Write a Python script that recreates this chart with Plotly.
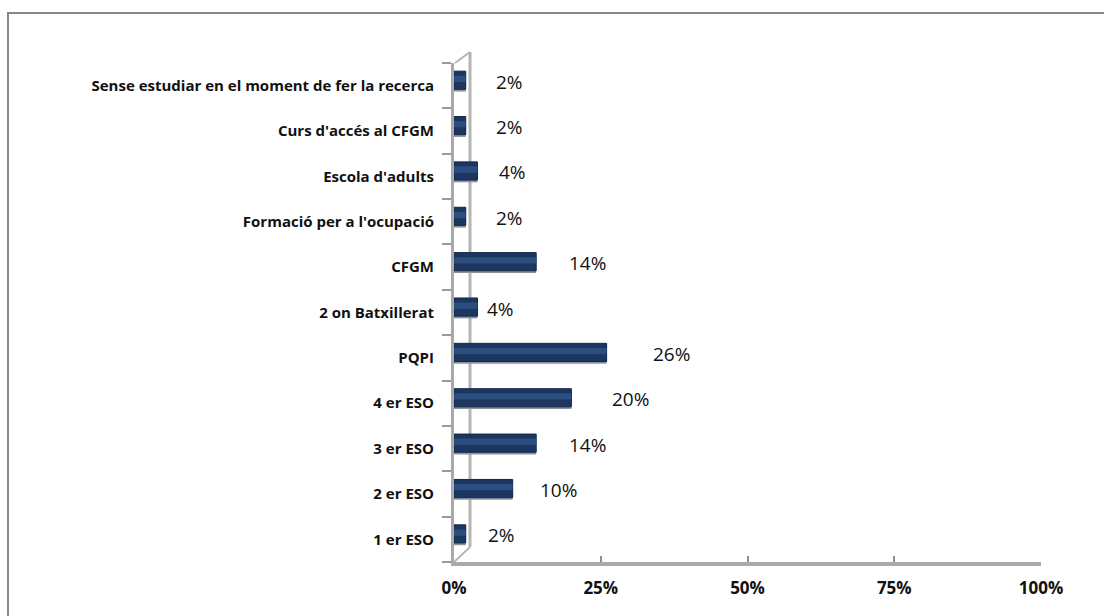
import plotly.graph_objects as go

# Categories listed bottom-to-top as they appear on the vertical axis
categories = [
    "1 er ESO",
    "2 er ESO",
    "3 er ESO",
    "4 er ESO",
    "PQPI",
    "2 on Batxillerat",
    "CFGM",
    "Formació per a l'ocupació",
    "Escola d'adults",
    "Curs d'accés al CFGM",
    "Sense estudiar en el moment de fer la recerca",
]
percentages = [2, 10, 14, 20, 26, 4, 14, 2, 4, 2, 2]
x_ticks = [0, 25, 50, 75, 100]
x_tick_labels = ["0%", "25%", "50%", "75%", "100%"]

# Horizontal pixel nudges for the value labels (styling only)
label_dx = [20, 25, 31, 39, 44, 8, 31, 28, 20, 28, 28]

W, H = 1104, 616
PLOT_L, PLOT_R = 454, 1041
PLOT_T, PLOT_B = 63, 562

GRAY = "#a9a9a9"
FONT = "Open Sans, Lato, sans-serif"
bar_w = 0.40
bar_off = -bar_w / 2 + 0.12

fig = go.Figure()

# soft shadow under each bar
fig.add_trace(go.Bar(
    y=categories, x=percentages, orientation="h",
    width=bar_w, offset=bar_off - 0.05,
    marker=dict(color="#8d939c", line=dict(width=0)),
    hoverinfo="skip", showlegend=False,
))
# main bar body
fig.add_trace(go.Bar(
    y=categories, x=percentages, orientation="h",
    width=bar_w, offset=bar_off,
    marker=dict(color="#1c365f", line=dict(color="#13284a", width=1)),
    showlegend=False,
))
# lighter band for the cylindrical sheen
fig.add_trace(go.Bar(
    y=categories, x=percentages, orientation="h",
    width=0.14, offset=bar_off + 0.16,
    marker=dict(color="#2b4d80", line=dict(width=0)),
    hoverinfo="skip", showlegend=False,
))

annotations = []
for cat, val, dx in zip(categories, percentages, label_dx):
    annotations.append(dict(
        x=val, y=cat, xref="x", yref="y",
        text=f"{val}%", showarrow=False,
        xanchor="left", yanchor="middle",
        xshift=dx, yshift=4,
        font=dict(family=FONT, size=19, color="#111111"),
    ))

plot_w = PLOT_R - PLOT_L
plot_h = PLOT_B - PLOT_T

shapes = [
    # outer chart frame (runs off the right and bottom edges)
    dict(type="rect", xref="paper", yref="paper",
         x0=(8 - PLOT_L) / plot_w, x1=(W + 20 - PLOT_L) / plot_w,
         y0=(PLOT_B - (H + 20)) / plot_h, y1=(PLOT_B - 13) / plot_h,
         line=dict(color="#878787", width=2), fillcolor="rgba(0,0,0,0)", layer="below"),
    # back wall edge of the 3D frame
    dict(type="line", xref="x", xsizemode="pixel", xanchor=0, x0=16, x1=16,
         yref="y domain", ysizemode="pixel", yanchor=0, y0=15, y1=plot_h + 11,
         line=dict(color="#b5b5b5", width=3), layer="below"),
    # floor corner diagonal
    dict(type="line", xref="x", xsizemode="pixel", xanchor=0, x0=0, x1=16,
         yref="y domain", ysizemode="pixel", yanchor=0, y0=0, y1=15,
         line=dict(color="#b5b5b5", width=2), layer="below"),
    # top corner diagonal
    dict(type="line", xref="x", xsizemode="pixel", xanchor=0, x0=1, x1=16,
         yref="y domain", ysizemode="pixel", yanchor=1, y0=0, y1=11,
         line=dict(color="#b5b5b5", width=2)),
]

fig.update_layout(
    width=W, height=H,
    margin=dict(l=PLOT_L, r=W - PLOT_R, t=PLOT_T, b=H - PLOT_B, pad=0),
    paper_bgcolor="white", plot_bgcolor="white",
    barmode="overlay",
    showlegend=False,
    annotations=annotations,
    shapes=shapes,
    xaxis=dict(
        range=[0, 100], tickvals=x_ticks, ticktext=x_tick_labels,
        showgrid=False, zeroline=False,
        showline=True, linecolor=GRAY, linewidth=4,
        ticks="inside", ticklen=6, tickcolor="#8f8f8f", tickwidth=2,
        ticklabelstandoff=8,
        tickfont=dict(family=FONT, size=17, color="#111111", weight="bold"),
        fixedrange=True,
    ),
    yaxis=dict(
        type="category", categoryorder="array", categoryarray=categories,
        range=[-0.5, len(categories) - 0.5],
        showgrid=False, zeroline=False,
        showline=True, linecolor=GRAY, linewidth=3,
        ticks="outside", tickson="boundaries", ticklen=9,
        tickcolor="#9a9a9a", tickwidth=2,
        ticklabelstandoff=14,
        tickfont=dict(family=FONT, size=15, color="#111111", weight="bold"),
        fixedrange=True,
    ),
)

fig.write_html("out.html")
